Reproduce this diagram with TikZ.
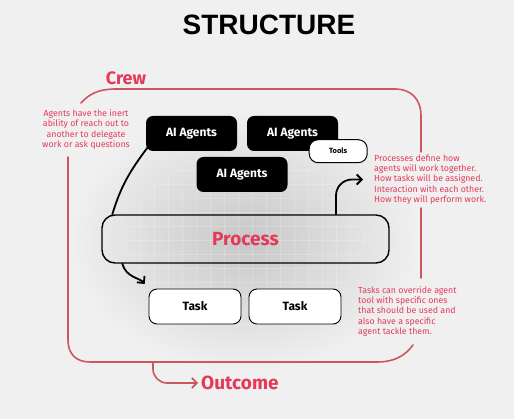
\documentclass[tikz,border=0pt]{standalone}
\usepackage{fontspec}
\setmainfont{Fira Sans}
\newfontfamily\headfont{Liberation Sans}
\usetikzlibrary{arrows.meta}
\definecolor{bgcol}{RGB}{240,240,240}
\definecolor{crewred}{RGB}{204,88,94}
\definecolor{notered}{RGB}{228,58,90}

\begin{document}
\begin{tikzpicture}[x=1pt, y=-1pt,
    agent/.style={fill=black, text=white, rounded corners=7pt, minimum width=91pt, minimum height=35pt, font=\fontsize{12}{14}\selectfont\bfseries},
    taskbox/.style={draw=black, fill=white, line width=0.9pt, rounded corners=8pt, minimum width=92pt, minimum height=35pt, font=\fontsize{12}{14}\selectfont\bfseries},
    note/.style={text=notered, font=\fontsize{8.8}{10.3}\selectfont, inner sep=2pt},
    link/.style={line width=1.8pt, line cap=round},
    flow/.style={link, -{Straight Barb[length=5pt,width=10pt]}},
    crewline/.style={draw=crewred, line width=1.6pt, line cap=round}]
    \useasboundingbox (0,0) rectangle (514,419);
    % page is in pixels, y grows downwards
    \begin{scope}
      \clip (0,0) rectangle (514,419);
      \fill[bgcol] (0,0) rectangle (514,419);
      \shade[inner color=black!22, outer color=bgcol] (245,240) ellipse [x radius=175, y radius=130];
    \end{scope}
    % faint grid behind the process
    \begin{scope}
      \clip (245,240) ellipse [x radius=120, y radius=85];
      \foreach \x in {0,14,...,514}
        \draw[white, opacity=0.2, line width=0.6pt] (\x,0) -- (\x,419);
      \foreach \y in {2,16,...,419}
        \draw[white, opacity=0.2, line width=0.6pt] (0,\y) -- (514,\y);
    \end{scope}

    \node[font=\headfont\bfseries\fontsize{28}{30}\selectfont, anchor=base] (title) at (269,35) {STRUCTURE};

    % the crew frame, open where the notes sit
    \draw[crewline] (81,103) .. controls (90,93) and (100,89) .. (116,89) -- (395,89)
      .. controls (411,89) and (421,99) .. (421,116) -- (421,152);
    \draw[crewline] (421,208) -- (421,278);
    \draw[crewline] (413,345) .. controls (405,356) and (394,362) .. (377,362) -- (90,362)
      .. controls (76,362) and (68,354) .. (68,340) -- (68,157);
    \node[text=notered, font=\fontsize{18}{20}\selectfont\bfseries, anchor=base] (crew) at (126,85) {Crew};

    \node[agent] (a1) at (191.5,133.5) {AI Agents};
    \node[agent] (a2) at (292.5,133.5) {AI Agents};
    \node[agent] (a3) at (242,174.5) {AI Agents};
    \node[draw, fill=white, line width=1pt, rounded corners=9pt, minimum width=58pt, minimum height=23pt,
      font=\fontsize{7.5}{9}\selectfont\bfseries] (tools) at (a2.south east) {Tools};

    \node[draw, line width=1.4pt, rounded corners=13pt, minimum width=287pt, minimum height=48pt,
      text=notered, font=\fontsize{19}{22}\selectfont\bfseries] (process) at (245.5,239) {Process};

    \node[taskbox] (t1) at (195,306.5) {Task};
    \node[taskbox] (t2) at (295,306.5) {Task};

    \node[note, align=center] (agentnote) at (86,129.5)
      {Agents have the inert\\ability of reach out to\\another to delegate\\work or ask questions};
    \node[note, align=left, anchor=west] (procnote) at (372,179.5)
      {Processes define how\\agents will work together.\\How tasks will be assigned.\\Interaction with each other.\\How they will perform work.};
    \node[note, align=left, anchor=west] (tasknote) at (356,311.5)
      {Tasks can override agent\\tool with specific ones\\that should be used and\\also have a specific\\agent tackle them.};

    % angles of the bends are page angles
    \draw[link] ([xshift=2pt,yshift=4pt]a1.south west) to[out=233, in=73] ([xshift=11pt]process.north west);
    \draw[flow, shorten >=6pt] ([xshift=21pt]process.south west) to[out=285, in=130] (t1.north west);
    \draw[flow, rounded corners=16pt, shorten >=9pt] ([xshift=90.5pt]process.north) |- (procnote.west);

    % outcome leaves the bottom of the frame
    \coordinate (split) at (153,362);
    \node[text=notered, font=\fontsize{19}{22}\selectfont\bfseries, anchor=west, inner sep=3pt] (outcome) at (198,383) {Outcome};
    \draw[crewline, rounded corners=14pt, -{Straight Barb[length=5pt,width=10pt]}] (split) |- (outcome.west);
  \end{tikzpicture}
\end{document}
